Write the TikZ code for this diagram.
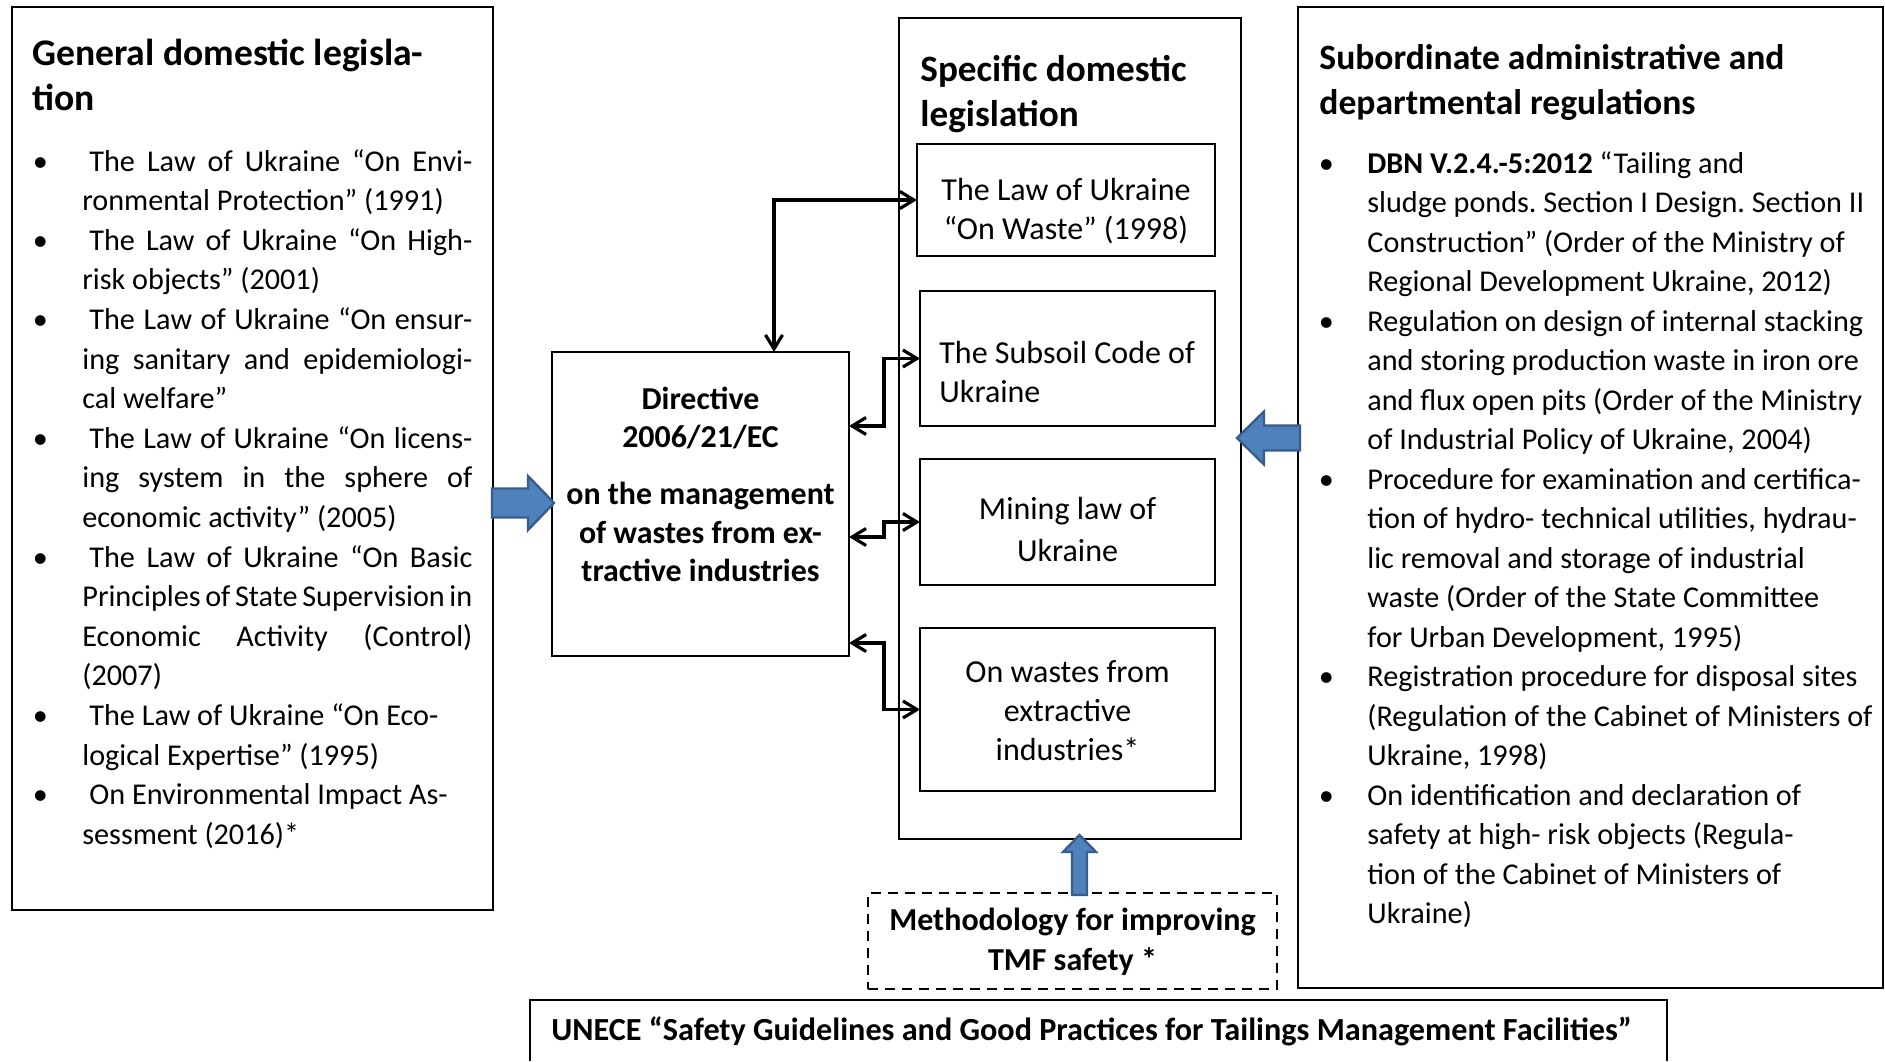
\documentclass[tikz,border=0pt]{standalone}
\usepackage{fontspec}
\setmainfont{Carlito}
\usetikzlibrary{arrows.meta,calc}
\definecolor{barfill}{RGB}{79,129,189}
\definecolor{bardraw}{RGB}{56,93,138}
\newcommand\fs[2]{\fontsize{#1}{#2}\selectfont}
\newcommand\ns{\spaceskip=\fontdimen2\font\xspaceskip=\fontdimen2\font\relax}
\newcommand\jl[1]{\leavevmode\hbox to 195pt{\spaceskip=0pt\xspaceskip=0pt\relax#1}}
\newcommand\bl[1][17.25pt]{\leavevmode\llap{•\hspace{#1}}}
\tikzset{
  box/.style={draw, line width=1.1pt, inner sep=0pt, outer sep=0pt, anchor=north west},
  inbox/.style={draw, line width=0.75pt, inner sep=0pt, outer sep=0pt, anchor=north west},
  dashbox/.style={draw, dashed, dash pattern=on 5pt off 3.5pt, line width=1pt, inner sep=0pt, outer sep=0pt, anchor=north west},
  conn/.style={line width=1.6pt, {Straight Barb[length=7pt,width=8.5pt]}-{Straight Barb[length=7pt,width=8.5pt]}},
  txt/.style={inner sep=0pt, anchor=base west, align=left},
  ctxt/.style={inner sep=0pt, anchor=base, align=center},
  one/.style={inner sep=0pt, anchor=base west},
  blockarrow/.style={fill=barfill, draw=bardraw, line width=1.2pt, line join=miter},
  bodyfont/.style={font=\frenchspacing\fs{15.1pt}{19.8pt}},
  boxfont/.style={font=\fs{16pt}{19.5pt}},
  headfont/.style={font=\bfseries\fs{18.8pt}{22.75pt}}
}
\begin{document}
\begin{tikzpicture}[x=0.5pt,y=-0.5pt]
\useasboundingbox (0,0) rectangle (1885,1061);
% main boxes
\node[box, minimum width=240.5pt, minimum height=451.5pt] (left) at (12,7) {};
\node[box, minimum width=171pt, minimum height=410.5pt] (center) at (899,18) {};
\node[box, minimum width=292.5pt, minimum height=490.5pt] (right) at (1298,7) {};
\node[box, line width=1.2pt, minimum width=148.5pt, minimum height=152pt] (dir) at (552,352) {};
\node[inbox, minimum width=149pt, minimum height=56pt] (b1) at (917,144) {};
\node[inbox, minimum width=147.5pt, minimum height=67.5pt] (b2) at (920,291) {};
\node[inbox, minimum width=147.5pt, minimum height=63pt] (b3) at (920,459) {};
\node[inbox, minimum width=147.5pt, minimum height=81.5pt] (b4) at (920,628) {};
\node[dashbox, minimum width=204.5pt, minimum height=48pt] (meth) at (868,893) {};
\draw[line width=1pt] (530,1061) -- (530,1000) -- (1667,1000) -- (1667,1061);

% titles
\node[txt, headfont, text width=235pt] (tL) at (32,65) {\ns General domestic legisla-\\tion};
\node[txt, font=\bfseries\fs{18.6pt}{22.75pt}, text width=160pt] (tC) at (920,81) {\ns Specific domestic\\legislation};
\node[txt, font=\bfseries\fs{17.8pt}{22.5pt}, text width=280pt] (tR) at (1319,69) {\ns Subordinate administrative and\\departmental regulations};

% left list
\node[txt, bodyfont, text width=195pt] (lL) at (82,171) {\ns
\jl{\bl\hspace{3.5pt}The Law of Ukraine “On Envi-}\\
ronmental Protection” (1991)\\
\jl{\bl\hspace{3.5pt}The Law of Ukraine “On High-}\\
risk objects” (2001)\\
\jl{\bl\hspace{3.5pt}The Law of Ukraine “On ensur-}\\
\jl{ing sanitary and epidemiologi-}\\
cal welfare”\\
\jl{\bl\hspace{3.5pt}The Law of Ukraine “On licens-}\\
\jl{ing system in the sphere of}\\
economic activity” (2005)\\
\jl{\bl\hspace{3.5pt}The Law of Ukraine “On Basic}\\
\jl{Principles of State Supervision in}\\
\jl{Economic Activity (Control)}\\
(2007)\\
\bl\hspace{3.5pt}The Law of Ukraine “On Eco-\\
logical Expertise” (1995)\\
\bl\hspace{3.5pt}On Environmental Impact As-\\
sessment (2016)*};

% right list
\node[txt, font=\frenchspacing\fs{15.1pt}{19.75pt}, text width=262pt] (lR) at (1367,173) {\ns
\bl[16.75pt]\textbf{DBN V.2.4.-5:2012} “Tailing and\\
sludge ponds. Section I Design. Section II\\
Construction” (Order of the Ministry of\\
Regional Development Ukraine, 2012)\\
\bl[16.75pt]Regulation on design of internal stacking\\
and storing production waste in iron ore\\
and flux open pits (Order of the Ministry\\
of Industrial Policy of Ukraine, 2004)\\
\bl[16.75pt]Procedure for examination and certifica-\\
tion of hydro- technical utilities, hydrau-\\
lic removal and storage of industrial\\
waste (Order of the State Committee\\
for Urban Development, 1995)\\
\bl[16.75pt]Registration procedure for disposal sites\\
(Regulation of the Cabinet of Ministers of\\
Ukraine, 1998)\\
\bl[16.75pt]On identification and declaration of\\
safety at high- risk objects (Regula-\\
tion of the Cabinet of Ministers of\\
Ukraine)};

% directive text
\node[ctxt, font=\bfseries\fs{15.95pt}{19.25pt}, text width=148pt] (dtx) at (700.5,409)
  {\ns Directive\\2006/21/EC\\[9.25pt]on the management\\of wastes from ex-\\tractive industries};

% inner box texts
\node[ctxt, boxfont, text width=145pt] (t1) at (1066,200) {\ns The Law of Ukraine\\“On Waste” (1998)};
\node[txt, boxfont, text width=135pt] (t2) at (939,363) {\ns The Subsoil Code of\\Ukraine};
\node[ctxt, boxfont, text width=145pt] (t3) at (1067.5,519) {\ns Mining law of\\[1.5pt]Ukraine};
\node[ctxt, boxfont, text width=145pt] (t4) at (1067.5,682) {\ns On wastes from\\extractive\\industries*};

% methodology and UNECE
\node[ctxt, font=\bfseries\fs{16pt}{20pt}, text width=200pt] (tM) at (1072.5,930) {\ns Methodology for improving\\TMF safety *};
\node[one, font=\bfseries\fs{16.1pt}{20pt}] (tU) at (551,1040) {UNECE “Safety Guidelines and Good Practices for Tailings Management Facilities”};

% connectors
\draw[conn] ($(dir.north)+(73.5,0)$) |- (b1.west);
\draw[conn] ($(dir.east)+(0,-78)$) -| ($(b2.west)+(-36,0)$) -- (b2.west);
\draw[conn] ($(dir.east)+(0,33)$) -| ($(b3.west)+(-36,0)$) -- (b3.west);
\draw[conn] ($(dir.east)+(0,139)$) -| ($(b4.west)+(-36,0)$) -- (b4.west);

% block arrows
\draw[blockarrow] (492,488.5) -- (528,488.5) -- (528,476) -- (554,503) -- (528,530) -- (528,517.5) -- (492,517.5) -- cycle;
\draw[blockarrow] (1300,425.5) -- (1264,425.5) -- (1264,411.5) -- (1237,438) -- (1264,464.5) -- (1264,450.5) -- (1300,450.5) -- cycle;
\draw[blockarrow] (1072,895) -- (1072,852) -- (1063,852) -- (1079.5,835) -- (1096,852) -- (1087,852) -- (1087,895) -- cycle;
\end{tikzpicture}
\end{document}
